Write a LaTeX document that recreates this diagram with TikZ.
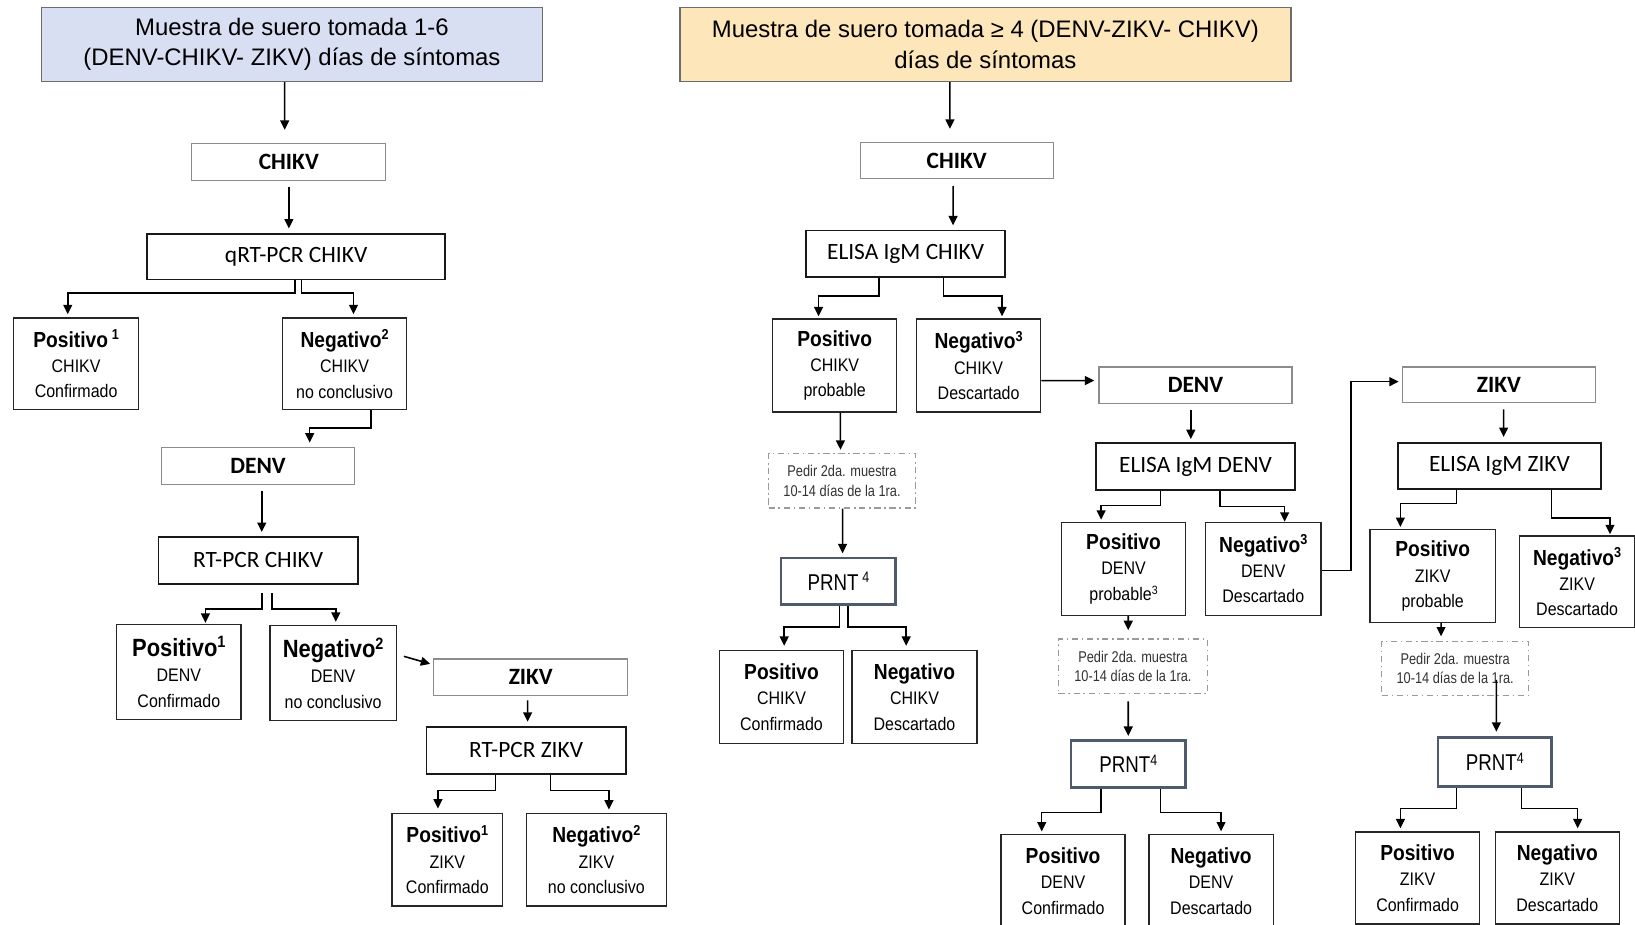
\documentclass[tikz,border=0pt]{standalone}
\usepackage{fontspec}
\usetikzlibrary{arrows.meta}
\setmainfont{Liberation Sans}
\newfontfamily\arialf{Liberation Sans}
\newfontfamily\carlitof{Carlito}
\newfontfamily\narrowA[FakeStretch=0.88]{Liberation Sans}
\newfontfamily\narrowB[FakeStretch=0.82]{Liberation Sans}
\definecolor{topblue}{HTML}{D9DFF3}
\definecolor{topbeige}{HTML}{FCE6BA}
\definecolor{hdrgray}{HTML}{8C8C8C}
\definecolor{slate}{HTML}{4F5B6B}
\definecolor{dashgray}{HTML}{9A9A9A}
\newcommand{\sups}[1]{\raisebox{0.34em}{\scalebox{0.66}{#1}}}
\newcommand{\rlines}[3]{{\fontsize{21}{24.5}\selectfont\bfseries #1}\\#2\\#3}
\newcommand{\rlinesbig}[3]{{\fontsize{24}{27}\selectfont\bfseries #1}\\#2\\#3}
\tikzset{
  topbox/.style={draw=gray!85!black, line width=1.3bp, align=center, inner sep=0pt,
    font=\arialf\fontsize{23}{29.5}\selectfont},
  hdr/.style={draw=hdrgray, line width=1.1bp, fill=white, inner sep=0pt,
    font=\carlitof\bfseries\fontsize{22.5}{26}\selectfont},
  testbox/.style={draw=black!90, line width=1.8bp, inner sep=0pt,
    font=\carlitof\fontsize{22.5}{26}\selectfont},
  res/.style={draw=black!85, line width=1.3bp, align=center, inner sep=0pt,
    font=\narrowA\fontsize{17.5}{24.5}\selectfont},
  prnt/.style={draw=slate, line width=2.6bp, inner sep=0pt,
    font=\narrowB\fontsize{22}{26}\selectfont},
  dashbox/.style={draw=dashgray, line width=1.4bp, dash pattern=on 6bp off 3.5bp on 1.5bp off 3.5bp,
    align=center, inner sep=0pt, text=black!80, font=\narrowB\fontsize{15}{19}\selectfont},
  arr/.style={-{Triangle[length=9bp,width=8.5bp]}, line width=1.5bp, black},
}
\begin{document}
\begin{tikzpicture}[x=1bp,y=-1bp]
\useasboundingbox (0,0) rectangle (1568,887);
\fill[white] (0,0) rectangle (1568,887);

% ---------------- LEFT ----------------
\node[topbox, fill=topblue, minimum width=480bp, minimum height=71bp] (T1) at (280,42.5)
  {Muestra de suero tomada 1-6\\(DENV-CHIKV- ZIKV) días de síntomas};
\node[hdr, minimum width=186bp, minimum height=35bp] (Lchik) at (277,155.5) {CHIKV};
\node[testbox, minimum width=286bp, minimum height=44bp] (Lqrt) at (284,246) {qRT-PCR CHIKV};
\node[res, minimum width=120bp, minimum height=88bp] (Lp1) at (73,349)
  {\rlines{Positivo\,\sups{1}}{CHIKV}{Confirmado}};
\node[res, minimum width=119bp, minimum height=88bp] (Ln1) at (330.5,349)
  {\rlines{Negativo\sups{2}}{CHIKV}{no conclusivo}};
\node[hdr, minimum width=185bp, minimum height=36bp] (Ldenv) at (247.5,447) {DENV};
\node[testbox, minimum width=191bp, minimum height=45bp] (Lrtc) at (247.5,537.5) {RT-PCR CHIKV};
\node[res, minimum width=119bp, minimum height=91bp] (Lp2) at (171.5,644.5)
  {\rlinesbig{Positivo\sups{1}}{DENV}{Confirmado}};
\node[res, minimum width=121bp, minimum height=91bp] (Ln2) at (319.5,645.5)
  {\rlinesbig{Negativo\sups{2}}{DENV}{no conclusivo}};
\node[hdr, minimum width=186bp, minimum height=35bp] (Lzikv) at (509,649.5) {ZIKV};
\node[testbox, minimum width=191bp, minimum height=45bp] (Lrtz) at (504.5,719.5) {RT-PCR ZIKV};
\node[res, minimum width=106bp, minimum height=89bp] (Lp3) at (429,824.5)
  {\rlines{Positivo\sups{1}}{ZIKV}{Confirmado}};
\node[res, minimum width=134bp, minimum height=89bp] (Ln3) at (572,824.5)
  {\rlines{Negativo\sups{2}}{ZIKV}{no conclusivo}};

\draw[arr, shorten >=13bp] ([xshift=-7bp]T1.south) -- ([xshift=-4bp]Lchik.north);
\draw[arr, shorten <=6bp, shorten >=4bp] (Lchik.south) -- (Lqrt.north -| Lchik.south);
\draw[arr, shorten >=3bp] ([xshift=-1bp]Lqrt.south) -- ++(0,12) -| ([xshift=-8bp]Lp1.north);
\draw[arr, shorten >=3bp] ([xshift=5bp]Lqrt.south) -- ++(0,12) -| ([xshift=8.5bp]Ln1.north);
\draw[arr, shorten >=4bp] ([xshift=25.5bp]Ln1.south) -- ++(0,17) -| ([xshift=49.5bp]Ldenv.north);
\draw[arr, shorten <=5bp, shorten >=4bp] ([xshift=3.5bp]Ldenv.south) -- ([xshift=3.5bp]Lrtc.north);
\draw[arr, shorten <=8bp, shorten >=1bp] ([xshift=3.5bp]Lrtc.south) -- ++(0,23) -| ([xshift=25.5bp]Lp2.north);
\draw[arr, shorten <=8bp, shorten >=3bp] ([xshift=13.5bp]Lrtc.south) -- ++(0,23) -| ([xshift=2.5bp]Ln2.north);
\draw[arr, shorten <=7bp, shorten >=3bp] ([yshift=18bp]Ln2.east) -- ([yshift=12bp]Lzikv.west);
\draw[arr, shorten <=4bp, shorten >=4bp] ([xshift=-3bp]Lzikv.south) -- ([xshift=1.5bp]Lrtz.north);
\draw[arr, shorten >=4bp] ([xshift=-29.5bp]Lrtz.south) -- ++(0,15) -| ([xshift=-9bp]Lp3.north);
\draw[arr, shorten >=3bp] ([xshift=23.5bp]Lrtz.south) -- ++(0,15) -| ([xshift=12bp]Ln3.north);

% ---------------- RIGHT ----------------
\node[topbox, fill=topbeige, minimum width=586bp, minimum height=71bp] (T2) at (945,42.5)
  {Muestra de suero tomada ≥ 4 (DENV-ZIKV- CHIKV)\\días de síntomas};
\node[hdr, minimum width=185bp, minimum height=34bp] (Rchik) at (917.5,154) {CHIKV};
\node[testbox, minimum width=191bp, minimum height=45bp] (Reli) at (868.5,243.5) {ELISA IgM CHIKV};
\node[res, minimum width=119bp, minimum height=89bp] (Rp1) at (800.5,350.5)
  {\rlines{Positivo}{CHIKV}{probable}};
\node[res, minimum width=119bp, minimum height=89bp] (Rn1) at (938.5,350.5)
  {\rlines{Negativo\sups{3}}{CHIKV}{Descartado}};
\node[dashbox, minimum width=141bp, minimum height=52bp] (Rd1) at (807.5,461)
  {Pedir 2da. muestra\\10-14 días de la 1ra.};
\node[prnt, minimum width=110bp, minimum height=45bp] (Rpr1) at (804,557.5) {PRNT\,\sups{4}};
\node[res, minimum width=119bp, minimum height=89bp] (Rp1c) at (749.5,668.5)
  {\rlines{Positivo}{CHIKV}{Confirmado}};
\node[res, minimum width=120bp, minimum height=89bp] (Rn1c) at (877,668.5)
  {\rlines{Negativo}{CHIKV}{Descartado}};

\node[hdr, minimum width=185bp, minimum height=35bp] (Rdenv) at (1146.5,369.5) {DENV};
\node[testbox, minimum width=191bp, minimum height=45bp] (Reli2) at (1146.5,447.5) {ELISA IgM DENV};
\node[res, minimum width=119bp, minimum height=89bp] (Rp2) at (1077.5,545.5)
  {\rlines{Positivo}{DENV}{probable\sups{3}}};
\node[res, minimum width=111bp, minimum height=89bp] (Rn2) at (1211.5,545.5)
  {\rlines{Negativo\sups{3}}{DENV}{Descartado}};
\node[dashbox, minimum width=143bp, minimum height=52bp] (Rd2) at (1086.5,639)
  {Pedir 2da. muestra\\10-14 días de la 1ra.};
\node[prnt, minimum width=110bp, minimum height=45bp] (Rpr2) at (1082,732.5) {PRNT\sups{4}};
\node[res, minimum width=119bp, minimum height=90bp] (Rp2c) at (1019.5,845)
  {\rlines{Positivo}{DENV}{Confirmado}};
\node[res, minimum width=119bp, minimum height=90bp] (Rn2c) at (1161.5,845)
  {\rlines{Negativo}{DENV}{Descartado}};

\node[hdr, minimum width=185bp, minimum height=34bp] (Rzikv) at (1437.5,369) {ZIKV};
\node[testbox, minimum width=194bp, minimum height=44bp] (Reli3) at (1438,447) {ELISA IgM ZIKV};
\node[res, minimum width=120bp, minimum height=89bp] (Rp3) at (1374,552.5)
  {\rlines{Positivo}{ZIKV}{probable}};
\node[res, minimum width=111bp, minimum height=88bp] (Rn3) at (1512.5,558)
  {\rlines{Negativo\sups{3}}{ZIKV}{Descartado}};
\node[dashbox, minimum width=141bp, minimum height=52bp] (Rd3) at (1395.5,641)
  {Pedir 2da. muestra\\10-14 días de la 1ra.};
\node[prnt, minimum width=109bp, minimum height=47bp] (Rpr3) at (1433.5,730.5) {PRNT\sups{4}};
\node[res, minimum width=119bp, minimum height=88bp] (Rp3c) at (1359.5,842)
  {\rlines{Positivo}{ZIKV}{Confirmado}};
\node[res, minimum width=119bp, minimum height=88bp] (Rn3c) at (1493.5,842)
  {\rlines{Negativo}{ZIKV}{Descartado}};

% connectors right
\draw[arr, shorten >=13bp] ([xshift=-34bp]T2.south) -- ([xshift=-6.5bp]Rchik.north);
\draw[arr, shorten <=7bp, shorten >=4bp] ([xshift=-3.5bp]Rchik.south) -- ([xshift=45.5bp]Reli.north);
\draw[arr, shorten >=2bp] ([xshift=-25.5bp]Reli.south) -- ++(0,17) -| ([xshift=-15.5bp]Rp1.north);
\draw[arr, shorten >=2bp] ([xshift=36.5bp]Reli.south) -- ++(0,17) -| ([xshift=22.5bp]Rn1.north);
\draw[arr, shorten >=3bp] ([xshift=5.5bp]Rp1.south) -- ([xshift=-1.5bp]Rd1.north);
\draw[arr, shorten >=3bp] ([xshift=0.5bp]Rd1.south) -- ([xshift=4bp]Rpr1.north);
\draw[arr, shorten >=4bp] ([xshift=1bp]Rpr1.south) -- ++(0,20) -| ([xshift=2.5bp]Rp1c.north);
\draw[arr, shorten >=4bp] ([xshift=9bp]Rpr1.south) -- ++(0,20) -| ([xshift=-8bp]Rn1c.north);
\draw[arr, shorten >=4bp] ([yshift=-14.5bp]Rn1.east) -- ([yshift=4.5bp]Rdenv.west);

\draw[arr, shorten <=6bp, shorten >=3bp] ([xshift=-4.5bp]Rdenv.south) -- ([xshift=-4.5bp]Reli2.north);
\draw[arr, shorten >=2bp] ([xshift=-33.5bp]Reli2.south) -- ++(0,14) -| ([xshift=-21.5bp]Rp2.north);
\draw[arr] ([xshift=23.5bp]Reli2.south) -- ++(0,15) -| ([xshift=20.5bp]Rn2.north);
\draw[arr, shorten >=8bp] ([xshift=4.5bp]Rp2.south) -- ([xshift=-4.5bp]Rd2.north);
\draw[arr, shorten <=7bp, shorten >=3bp] ([xshift=-4.5bp]Rd2.south) -- (Rpr2.north);
\draw[arr, shorten >=2bp] ([xshift=-26bp]Rpr2.south) -- ++(0,23) -| ([xshift=-20.5bp]Rp2c.north);
\draw[arr, shorten >=2bp] ([xshift=31bp]Rpr2.south) -- ++(0,23) -| ([xshift=9.5bp]Rn2c.north);
\draw[arr, shorten >=3bp] ([yshift=-1.5bp]Rn2.east) -- ++(28,0) |- ([yshift=3bp]Rzikv.west);

\draw[arr, shorten <=6bp, shorten >=5bp] ([xshift=4.5bp]Rzikv.south) -- ([xshift=4bp]Reli3.north);
\draw[arr, shorten >=2bp] ([xshift=-41bp]Reli3.south) -- ++(0,13) -| ([xshift=-31bp]Rp3.north);
\draw[arr, shorten >=1bp] ([xshift=50bp]Reli3.south) -- ++(0,27) -| ([xshift=31.5bp]Rn3.north);
\draw[arr, shorten >=4bp] ([xshift=8bp]Rp3.south) -- ([xshift=-13.5bp]Rd3.north);
\draw[arr, shorten >=4bp] ([xshift=39.5bp,yshift=-11bp]Rd3.center) -- ([xshift=1.5bp]Rpr3.north);
\draw[arr, shorten >=3bp] ([xshift=-36.5bp]Rpr3.south) -- ++(0,20) -| ([xshift=-16.5bp]Rp3c.north);
\draw[arr, shorten >=3bp] ([xshift=25.5bp]Rpr3.south) -- ++(0,20) -| ([xshift=19.5bp]Rn3c.north);
\end{tikzpicture}
\end{document}
